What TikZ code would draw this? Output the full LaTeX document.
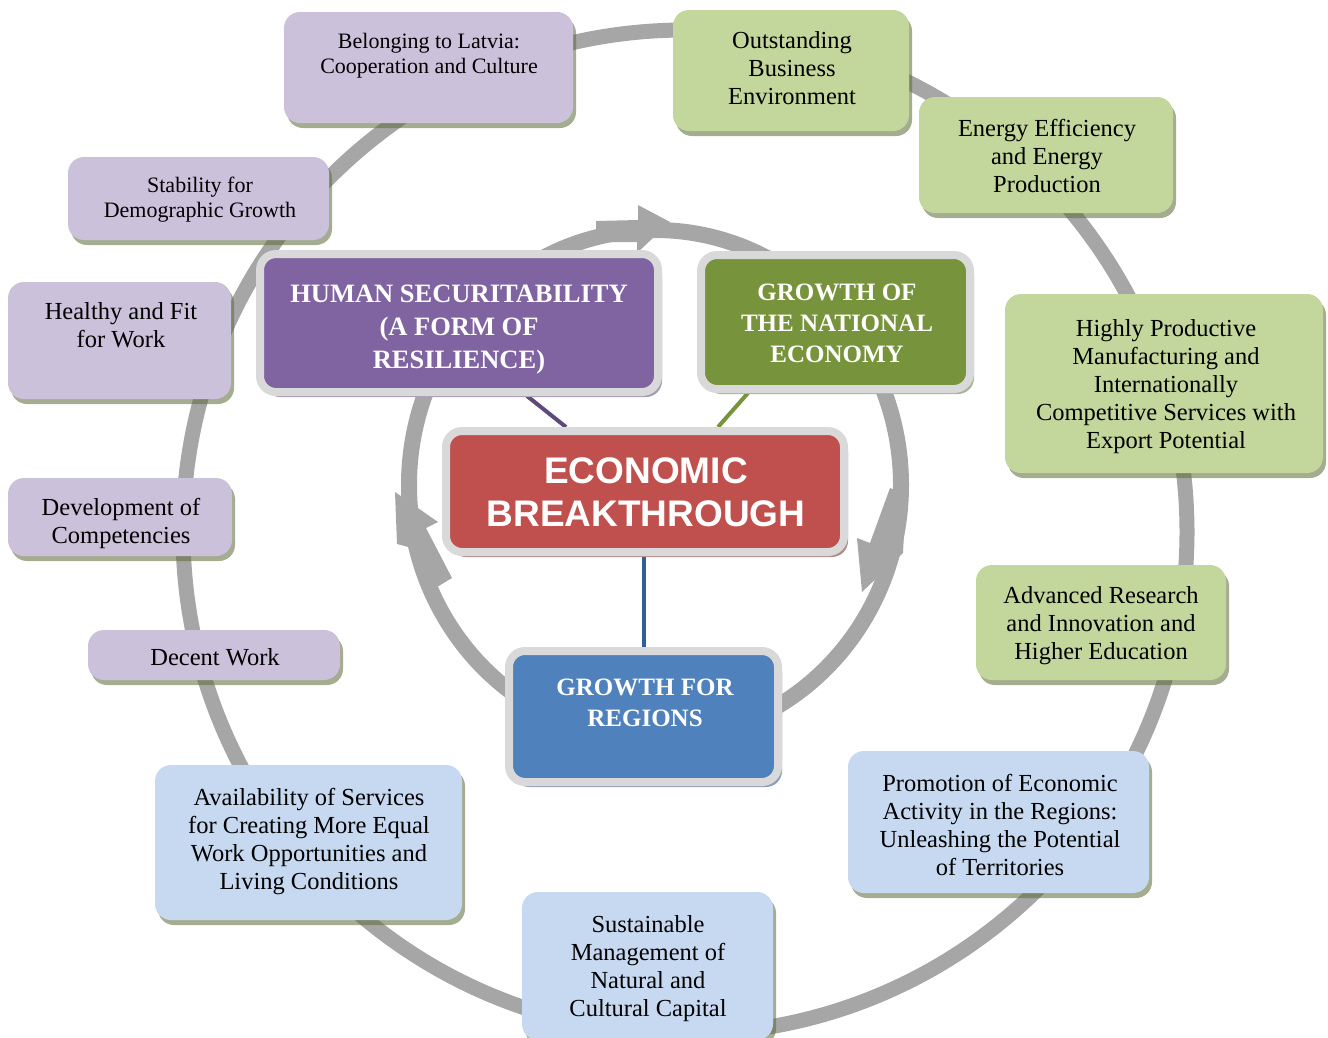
\documentclass[tikz,border=0pt]{standalone}
\usepackage{fontspec}
\setmainfont{Liberation Serif}
\newfontfamily\arialf{Liberation Sans}
\usetikzlibrary{shadows}
\definecolor{ringgray}{HTML}{A6A6A6}
\definecolor{lpurple}{HTML}{CCC1DA}
\definecolor{lgreen}{HTML}{C3D69B}
\definecolor{lblue}{HTML}{C6D9F0}
\definecolor{dpurple}{HTML}{8064A2}
\definecolor{dgreen}{HTML}{77933C}
\definecolor{dred}{HTML}{C0504D}
\definecolor{dblue}{HTML}{4F81BD}
\definecolor{bordergray}{HTML}{D9D9D9}
\definecolor{shadowolive}{HTML}{616F3E}
\definecolor{shpurple}{HTML}{A69CB5}
\definecolor{shgreen}{HTML}{A9B598}
\definecolor{shred}{HTML}{B38C8B}
\definecolor{shblue}{HTML}{8FA1B9}
\definecolor{linepurple}{HTML}{5F497A}
\definecolor{linegreen}{HTML}{77933C}
\definecolor{lineblue}{HTML}{2F5F98}
\pgfdeclarelayer{bg}
\pgfsetlayers{bg,main}
\begin{document}
\begin{tikzpicture}[x=1pt,y=-1pt,
  lbox/.style={rectangle, rounded corners=16pt, draw=none, inner sep=0pt,
    drop shadow={shadow xshift=3pt, shadow yshift=-5pt, fill=shadowolive, opacity=0.57}},
  mbox/.style={rectangle, rounded corners=16pt, draw=bordergray, line width=8pt, inner sep=0pt},
  txt/.style={align=center, inner sep=0pt, font=\fontsize{24.5}{28}\selectfont},
  stxt/.style={align=center, inner sep=0pt, font=\fontsize{22}{25}\selectfont},
  mtxt/.style={align=center, inner sep=0pt, text=white, font=\bfseries\fontsize{25}{31}\selectfont},
  ring/.style={draw=ringgray, line width=15pt},
  conn/.style={line width=4pt}
]
\useasboundingbox (0,0) rectangle (1328,1037);

% light boxes
\node[lbox, fill=lpurple, minimum width=289pt, minimum height=111pt] (b1) at (428.5,67.5) {};
\node[lbox, fill=lpurple, minimum width=261pt, minimum height=83pt] (b2) at (198.5,198.5) {};
\node[lbox, fill=lpurple, minimum width=223pt, minimum height=117pt] (b3) at (119.5,340.5) {};
\node[lbox, fill=lpurple, minimum width=224pt, minimum height=78pt] (b4) at (120,517) {};
\node[lbox, fill=lpurple, minimum width=252pt, minimum height=50pt] (b5) at (214,655) {};
\node[lbox, fill=lgreen, minimum width=236pt, minimum height=121pt] (b6) at (791,70.5) {};
\node[lbox, fill=lgreen, minimum width=254pt, minimum height=116pt] (b7) at (1046,155) {};
\node[lbox, fill=lgreen, minimum width=318pt, minimum height=179pt] (b8) at (1164,383.5) {};
\node[lbox, fill=lgreen, minimum width=250pt, minimum height=115pt] (b9) at (1101,622.5) {};
\node[lbox, fill=lblue, minimum width=301pt, minimum height=142pt] (b10) at (998.5,822) {};
\node[lbox, fill=lblue, minimum width=251pt, minimum height=148pt] (b11) at (647.5,966) {};
\node[lbox, fill=lblue, minimum width=307pt, minimum height=155pt] (b12) at (308.5,842.5) {};

\node[stxt] (t1) at (429,55.5) {Belonging to Latvia:\\Cooperation and Culture};
\node[stxt] (t2) at (200,199.5) {Stability for\\Demographic Growth};
\node[txt] (t3) at (121,325) {Healthy and Fit\\for Work};
\node[txt] (t4) at (121,523) {Development of\\Competencies};
\node[txt] (t5) at (215,657) {Decent Work};
\node[txt] (t6) at (792,68) {Outstanding\\Business\\Environment};
\node[txt] (t7) at (1047,156) {Energy Efficiency\\and Energy\\Production};
\node[txt] (t8) at (1166,387) {Highly Productive\\Manufacturing and\\Internationally\\Competitive Services with\\Export Potential};
\node[txt] (t9) at (1101,625.5) {Advanced Research\\and Innovation and\\Higher Education};
\node[txt] (t10) at (1000,825) {Promotion of Economic\\Activity in the Regions:\\Unleashing the Potential\\of Territories};
\node[txt] (t11) at (648,969) {Sustainable\\Management of\\Natural and\\Cultural Capital};
\node[txt] (t12) at (309,842) {Availability of Services\\for Creating More Equal\\Work Opportunities and\\Living Conditions};

% main boxes
\node[mbox, fill=dpurple, minimum width=398pt, minimum height=138pt,
  drop shadow={shadow xshift=4pt, shadow yshift=-5pt, fill=shpurple, opacity=1}] (hum) at (459,323) {};
\node[mbox, fill=dgreen, minimum width=269pt, minimum height=134pt,
  drop shadow={shadow xshift=4pt, shadow yshift=-5pt, fill=shgreen, opacity=1}] (nat) at (835.5,322) {};
\node[mbox, fill=dred, minimum width=398pt, minimum height=121pt,
  drop shadow={shadow xshift=4pt, shadow yshift=-5pt, fill=shred, opacity=1}] (eco) at (645,491.5) {};
\node[mbox, fill=dblue, minimum width=269pt, minimum height=131pt,
  drop shadow={shadow xshift=4pt, shadow yshift=-5pt, fill=shblue, opacity=1}] (reg) at (643.5,716.5) {};

\node[mtxt, font=\bfseries\fontsize{26.5}{33}\selectfont] (thum) at (459,330) {HUMAN SECURITABILITY\\(A FORM OF\\RESILIENCE)};
\node[mtxt] (tnat) at (837,323.5) {GROWTH OF\\THE NATIONAL\\ECONOMY};
\node[mtxt] (treg) at (645,703) {GROWTH FOR\\REGIONS};
\node[align=center, inner sep=0pt, text=white, font=\arialf\bfseries\fontsize{37}{43}\selectfont] (teco) at (646,492) {ECONOMIC\\BREAKTHROUGH};

\coordinate (p1) at (527,0);
\coordinate (p2) at (566,0);
\coordinate (p3) at (748,0);
\coordinate (p4) at (718,0);
\coordinate (p5) at (644,0);

\begin{pgfonlayer}{bg}
  % outer ring
  \draw[ring] (685,532) circle[radius=502];
  % inner ring
  \draw[ring, line width=16pt] (655,485) ellipse[x radius=246, y radius=255];
  % arrowheads
  \fill[ringgray] (596,221) -- (638,220) -- (638,205) -- (670,222) -- (637,253) -- (637,242) -- (596,242) -- cycle;
  \fill[ringgray] (395,492) -- (438,522) -- (426,528) -- (452,578) -- (437,587) -- (412,548) -- (397,544) -- cycle;
  \fill[ringgray] (890,488) -- (906,495) -- (903,553) -- (862,592) -- (857,538) -- (870,543) -- cycle;
  % connectors
  \draw[conn, linepurple] (hum.south -| p1) -- (eco.north -| p2);
  \draw[conn, linegreen] (nat.south -| p3) -- (eco.north -| p4);
  \draw[conn, lineblue] (eco.south -| p5) -- (reg.north -| p5);
\end{pgfonlayer}
\end{tikzpicture}
\end{document}
